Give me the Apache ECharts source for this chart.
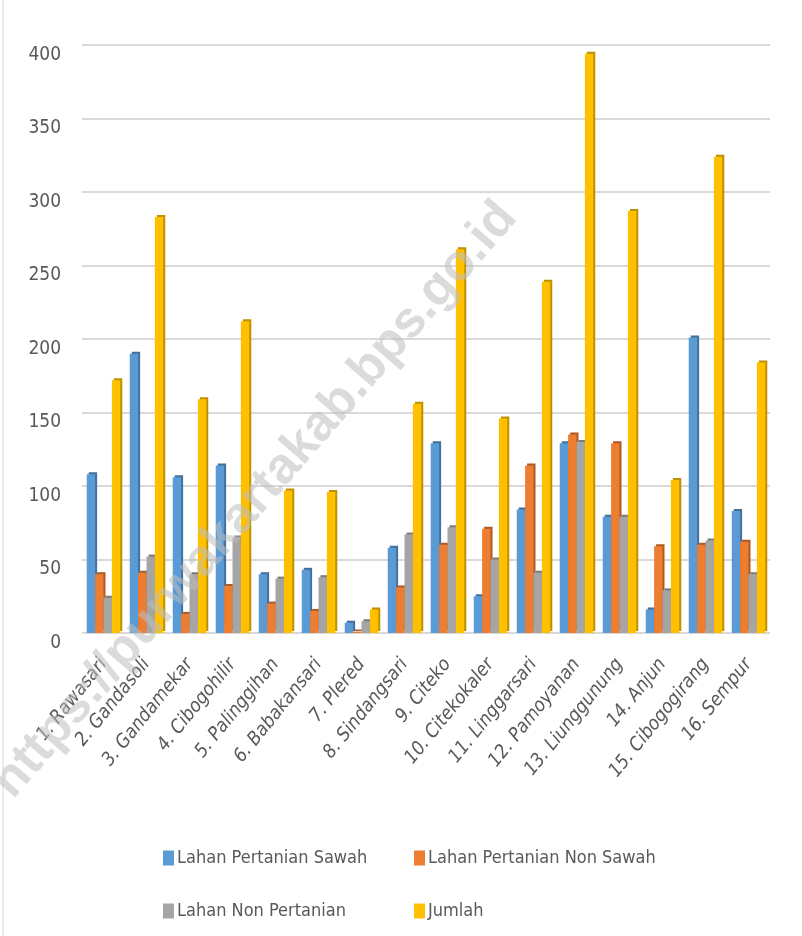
<!DOCTYPE html>
<html>
<head>
<meta charset="utf-8">
<script src="https://cdn.jsdelivr.net/npm/echarts@6/dist/echarts.min.js"></script>
<style>
  html, body { margin: 0; padding: 0; background: #fff; }
  #chart { width: 802px; height: 936px; }
</style>
</head>
<body>
<div id="chart"></div>
<script>
// desa / kelurahan
var categories = ['1. Rawasari', '2. Gandasoli', '3. Gandamekar', '4. Cibogohilir', '5. Palinggihan',
  '6. Babakansari', '7. Plered', '8. Sindangsari', '9. Citeko', '10. Citekokaler', '11. Linggarsari',
  '12. Pamoyanan', '13. Liunggunung', '14. Anjun', '15. Cibogogirang', '16. Sempur'];

var sawah    = [108, 190, 106, 114, 40, 43, 7, 58, 129, 25, 84, 129, 79, 16, 201, 83];
var nonSawah = [40, 41, 13, 32, 20, 15, 1, 31, 60, 71, 114, 135, 129, 59, 60, 62];
var nonTani  = [24, 52, 40, 65, 37, 38, 8, 67, 72, 50, 41, 130, 79, 29, 63, 40];
var jumlah   = [172, 283, 159, 212, 97, 96, 16, 156, 261, 146, 239, 394, 287, 104, 324, 184];

var seriesNames = ['Lahan Pertanian Sawah', 'Lahan Pertanian Non Sawah', 'Lahan Non Pertanian', 'Jumlah'];
var yTicks = { min: 0, max: 400, step: 50 };

var font = "'Liberation Sans Narrow', 'DejaVu Sans Condensed', 'Noto Sans', sans-serif";
var textColor = '#595959';

var chart = echarts.init(document.getElementById('chart'));

// bar with a darker offset shadow, a rough stand-in for the 3D side face
function barSeries(name, data, color, dark) {
  return {
    name: name,
    type: 'bar',
    data: data,
    barGap: '0%',
    barCategoryGap: '22%',
    itemStyle: {
      color: color,
      shadowColor: dark,
      shadowOffsetX: 2,
      shadowOffsetY: -2,
      shadowBlur: 0
    }
  };
}

function legendAt(name, left, top) {
  return {
    data: [name],
    left: left,
    top: top,
    padding: 0,
    itemWidth: 11,
    itemHeight: 15,
    itemGap: 0,
    icon: 'rect',
    textStyle: { color: textColor, fontSize: 18, fontFamily: font, padding: [0, 0, 0, -2] }
  };
}

var option = {
  animation: false,
  backgroundColor: '#ffffff',
  grid: { left: 82, right: 32, top: 45, bottom: 303 },
  legend: [
    legendAt(seriesNames[0], 163, 849),
    legendAt(seriesNames[1], 414, 849),
    legendAt(seriesNames[2], 163, 902),
    legendAt(seriesNames[3], 414, 902)
  ],
  xAxis: {
    type: 'category',
    data: categories,
    axisLine: { show: false },
    axisTick: { show: false },
    axisLabel: {
      interval: 0,
      rotate: 51,
      margin: 28,
      color: textColor,
      fontSize: 19,
      fontStyle: 'italic',
      fontFamily: font
    }
  },
  yAxis: {
    type: 'value',
    min: yTicks.min,
    max: yTicks.max,
    interval: yTicks.step,
    axisLine: { show: false },
    axisTick: { show: false },
    axisLabel: {
      color: textColor,
      fontSize: 19,
      fontFamily: font,
      margin: 21,
      verticalAlign: 'top',
      lineHeight: 20
    },
    splitLine: { lineStyle: { color: '#d9d9d9', width: 2 } }
  },
  series: [
    barSeries(seriesNames[0], sawah, '#5b9bd5', '#41719c'),
    barSeries(seriesNames[1], nonSawah, '#ed7d31', '#ae5a21'),
    barSeries(seriesNames[2], nonTani, '#a5a5a5', '#7c7c7c'),
    barSeries(seriesNames[3], jumlah, '#ffc000', '#bf9000')
  ],
  graphic: [
    {
      type: 'line',
      shape: { x1: 3, y1: 0, x2: 3, y2: 936 },
      style: { stroke: '#d9d9d9', lineWidth: 1 },
      z: 1
    },
    {
      type: 'text',
      x: 255,
      y: 500,
      rotation: 49 * Math.PI / 180,
      z: 100,
      silent: true,
      style: {
        text: 'https://purwakartakab.bps.go.id',
        font: "bold 51px 'Liberation Sans', Arial, sans-serif",
        fill: 'rgba(190,190,190,0.55)',
        textAlign: 'center',
        textVerticalAlign: 'middle'
      }
    }
  ]
};

chart.setOption(option);
</script>
</body>
</html>
